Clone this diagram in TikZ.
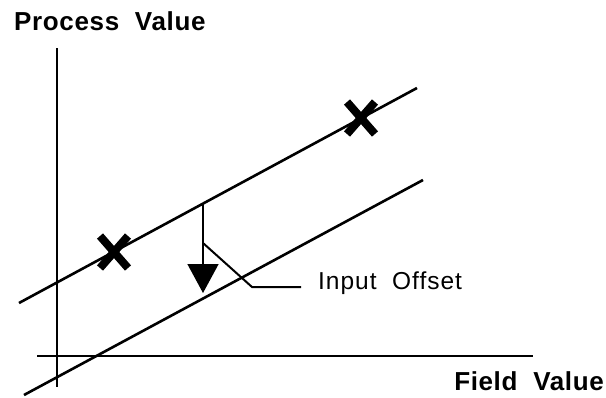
\documentclass[tikz,border=0pt]{standalone}
\usepackage{fontspec}
\setmainfont{Liberation Sans}
\usepackage{tikz}
\usetikzlibrary{arrows.meta, shapes.misc, positioning}

\tikzset{
    axislabel/.style={font=\bfseries\fontsize{26}{29}\selectfont\addfontfeatures{LetterSpace=2.5}, inner sep=0pt},
    xmark/.style={cross out, draw, line width=8pt, minimum width=20pt, minimum height=24pt, inner sep=0pt},
    calline/.style={line width=2.6pt},
}

\begin{document}
\begin{tikzpicture}[x=1pt, y=-1pt, >=latex]
    \useasboundingbox (0,0) rectangle (606,397);
    % Nhãn trục
    \node[axislabel, anchor=base west] (pv) at (14,30) {Process\ \ Value};
    \node[axislabel, anchor=base east] (fv) at (604,390) {Field\ \ Value};
    % Hệ trục
    \coordinate (ytop) at (57,48);
    \coordinate (ybot) at (57,387);
    \coordinate (xleft) at (37,356);
    \coordinate (xright) at (533,356);
    \draw[line width=1.8pt] (ytop) -- (ybot);
    \draw[line width=1.8pt] (xleft) -- (xright);
    % Hai đường thẳng song song
    \coordinate (a1) at (19,303);
    \coordinate (a2) at (417,88);
    \coordinate (b1) at (24,395);
    \coordinate (b2) at (423,180);
    \draw[calline] (a1) -- (a2);
    \draw[calline] (b1) -- (b2);
    % Điểm đánh dấu
    \node[xmark] (p1) at (114,252) {};
    \node[xmark] (p2) at (361,118) {};
    % Mũi tên độ lệch
    \coordinate (top) at (203,203);
    \coordinate (tip) at (203,293);
    \draw[line width=1.5pt, -{Triangle[length=29pt, width=31pt]}] (top) -- (tip);
    % Chú thích
    \node[anchor=base west, font=\fontsize{24.5}{27}\selectfont\addfontfeatures{LetterSpace=4}, inner sep=0pt] (off) at (318,289) {Input\ \ Offset};
    \coordinate (k1) at (203,243);
    \coordinate (k2) at (252,287);
    \draw[line width=2pt] (k1) -- (k2) -- ([xshift=-17pt]off.west |- k2);
\end{tikzpicture}
\end{document}
